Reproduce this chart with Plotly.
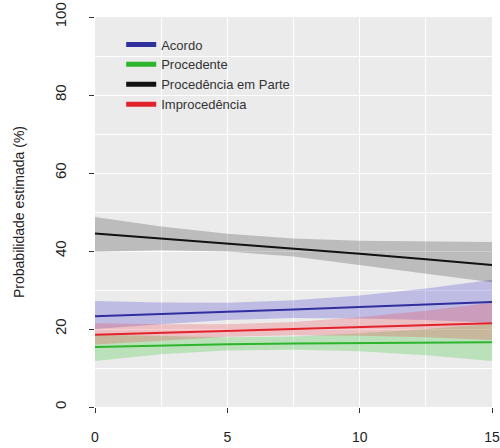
import plotly.graph_objects as go

# Predicted probability (%) with confidence bands, by covariate value
x = [0, 2.5, 5, 7.5, 10, 12.5, 15]

acordo_est = [23.3, 23.8, 24.4, 25.0, 25.6, 26.2, 26.9]
acordo_lo = [20.0, 21.2, 22.3, 22.8, 22.7, 22.3, 21.6]
acordo_hi = [27.2, 26.8, 26.7, 27.4, 28.6, 30.4, 32.6]

procedente_est = [15.4, 15.8, 16.1, 16.3, 16.4, 16.5, 16.6]
procedente_lo = [11.8, 13.5, 14.5, 14.7, 14.3, 13.3, 11.8]
procedente_hi = [18.5, 18.2, 17.9, 18.1, 18.9, 20.0, 21.3]

parte_est = [44.5, 43.2, 42.0, 40.7, 39.3, 37.9, 36.4]
parte_lo = [39.8, 40.2, 39.9, 38.6, 36.4, 34.2, 32.0]
parte_hi = [48.7, 46.3, 44.4, 43.2, 42.6, 42.4, 42.3]

improc_est = [18.5, 19.0, 19.5, 20.0, 20.5, 21.0, 21.5]
improc_lo = [16.0, 17.0, 18.0, 18.4, 18.3, 17.9, 17.2]
improc_hi = [21.5, 21.2, 21.2, 21.8, 23.0, 24.7, 26.7]

series = [
    ("Acordo", acordo_est, acordo_lo, acordo_hi, "#2f2f9e", "rgba(90,80,210,0.30)"),
    ("Procedente", procedente_est, procedente_lo, procedente_hi, "#2db52d", "rgba(60,200,60,0.28)"),
    ("Procedência em Parte", parte_est, parte_lo, parte_hi, "#111111", "rgba(0,0,0,0.20)"),
    ("Improcedência", improc_est, improc_lo, improc_hi, "#e3232b", "rgba(240,60,70,0.25)"),
]

fig = go.Figure()

# confidence bands first so the lines sit on top
for name, est, lo, hi, col, fill in series:
    fig.add_trace(go.Scatter(
        x=x + x[::-1], y=hi + lo[::-1],
        fill="toself", fillcolor=fill, line=dict(width=0),
        mode="lines", hoverinfo="skip", showlegend=False,
    ))

for name, est, lo, hi, col, fill in series:
    fig.add_trace(go.Scatter(
        x=x, y=est, mode="lines", name=name,
        line=dict(color=col, width=2),
    ))

fig.update_layout(
    width=500, height=448,
    margin=dict(l=95, r=8, t=17, b=41),
    paper_bgcolor="white",
    plot_bgcolor="#ebebeb",
    font=dict(family="Liberation Sans, Arial, sans-serif", size=13, color="#222222"),
    showlegend=True,
    legend=dict(
        x=0.066, y=0.968, xanchor="left", yanchor="top",
        bgcolor="rgba(0,0,0,0)", borderwidth=0,
        font=dict(size=13, color="#333333"),
        tracegroupgap=0, itemsizing="constant",
    ),
)

fig.update_xaxes(
    range=[0, 15], tickmode="array", tickvals=[0, 5, 10, 15],
    ticks="outside", ticklen=5, tickcolor="#333333",
    tickfont=dict(size=14, color="#222222"),
    ticklabelstandoff=12, automargin=False,
    showgrid=True, gridcolor="white", gridwidth=1.3,
    minor=dict(tickvals=[2.5, 7.5, 12.5], showgrid=True, gridcolor="white", gridwidth=1.3, ticks=""),
    showline=False, zeroline=False,
)

fig.update_yaxes(
    range=[0, 100], tickmode="array", tickvals=[0, 20, 40, 60, 80, 100],
    ticks="outside", ticklen=5, tickcolor="#333333",
    tickangle=-90,
    tickfont=dict(size=15, color="#222222"),
    ticklabelstandoff=17, automargin=False,
    showgrid=True, gridcolor="white", gridwidth=1.3,
    minor=dict(tickvals=[10, 30, 50, 70, 90], showgrid=True, gridcolor="white", gridwidth=1.3, ticks=""),
    showline=False, zeroline=False,
    title=dict(text="Probabilidade estimada (%)", font=dict(size=14, color="#222222"), standoff=24),
)

fig.write_html("out.html")
